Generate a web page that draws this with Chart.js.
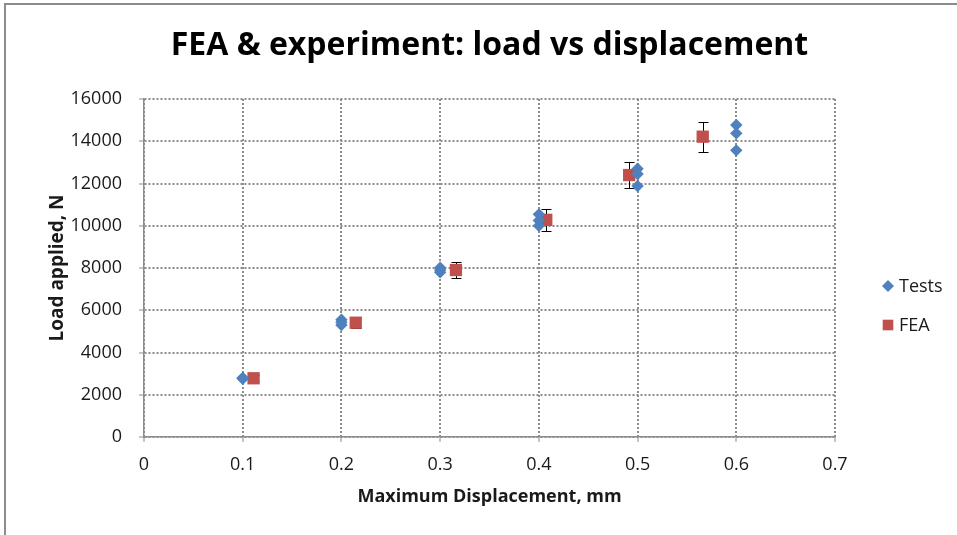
<!DOCTYPE html>
<html>
<head>
<meta charset="utf-8">
<script src="https://cdn.jsdelivr.net/npm/chart.js@4.4.1/dist/chart.umd.min.js"></script>
<style>
  html, body { margin: 0; padding: 0; background: #fff; }
  #wrap { position: relative; width: 957px; height: 535px; overflow: hidden; }
  #frame { position: absolute; left: 4px; top: 3px; right: -10px; bottom: -10px;
           border-left: 2px solid #8c8c8c; border-top: 2px solid #8c8c8c; pointer-events: none; }
  canvas { display: block; }
</style>
</head>
<body>
<div id="wrap">
  <canvas id="chart" width="957" height="535"></canvas>
  <div id="frame"></div>
</div>
<script>
// Measured specimens: maximum displacement (mm) and applied load (N)
const testDisp = [0.1, 0.1, 0.1, 0.2, 0.2, 0.2, 0.3, 0.3, 0.3, 0.4, 0.4, 0.4, 0.5, 0.5, 0.5, 0.6, 0.6, 0.6];
const testLoad = [2800, 2780, 2760, 5550, 5430, 5300, 8010, 7900, 7800, 10540, 10250, 10000, 12700, 12450, 11880, 14770, 14375, 13570];

// Finite element predictions with their error band (N)
const feaDisp = [0.111, 0.2145, 0.316, 0.4075, 0.4915, 0.566];
const feaLoad = [2780, 5410, 7905, 10280, 12400, 14216];
const feaErr  = [140, 270, 400, 510, 620, 710];

// Axis tick labels
const dispTickLabels = ['0', '0.1', '0.2', '0.3', '0.4', '0.5', '0.6', '0.7'];
const loadTickLabels = ['0', '2000', '4000', '6000', '8000', '10000', '12000', '14000', '16000'];

const seriesNames = ['Tests', 'FEA'];
const blue = '#4F81BD';
const red = '#C0504D';
const textColor = '#1a1a1a';
const gridColor = '#8c8c8c';
const FONT = '"Open Sans", Lato, "DejaVu Sans", sans-serif';

// Vertical whiskers with caps around each FEA point
const errorBars = {
  id: 'errorBars',
  beforeDatasetsDraw(chart) {
    const { ctx, scales: { x, y } } = chart;
    ctx.save();
    ctx.strokeStyle = '#000';
    ctx.lineWidth = 1;
    feaDisp.forEach((d, i) => {
      const px = Math.round(x.getPixelForValue(d)) + 0.5;
      const top = Math.round(y.getPixelForValue(feaLoad[i] + feaErr[i])) + 0.5;
      const bot = Math.round(y.getPixelForValue(feaLoad[i] - feaErr[i])) + 0.5;
      ctx.beginPath();
      ctx.moveTo(px, top); ctx.lineTo(px, bot);
      ctx.moveTo(px - 5, top); ctx.lineTo(px + 5, top);
      ctx.moveTo(px - 5, bot); ctx.lineTo(px + 5, bot);
      ctx.stroke();
    });
    ctx.restore();
  }
};

// Legend stacked to the right of the plot
const sideLegend = {
  id: 'sideLegend',
  afterDraw(chart) {
    const { ctx, chartArea } = chart;
    const x0 = chartArea.right + 53;
    const rows = [286, 325];
    ctx.save();
    chart.data.datasets.forEach((ds, i) => {
      const y = rows[i];
      ctx.fillStyle = ds.backgroundColor;
      ctx.strokeStyle = ds.borderColor;
      ctx.lineWidth = 0;
      Chart.helpers.drawPoint(ctx, { pointStyle: ds.pointStyle, radius: ds.legendRadius, borderWidth: 0 }, x0, y);
      ctx.fillStyle = textColor;
      ctx.font = '18px ' + FONT;
      ctx.textBaseline = 'middle';
      ctx.textAlign = 'left';
      ctx.fillText(ds.label, x0 + 11, y + 1);
    });
    ctx.restore();
  }
};

const toPoints = (xs, ys) => xs.map((v, i) => ({ x: v, y: ys[i] }));

new Chart(document.getElementById('chart'), {
  type: 'scatter',
  data: {
    datasets: [
      {
        label: seriesNames[0],
        data: toPoints(testDisp, testLoad),
        pointStyle: 'rectRot',
        pointRadius: 6.2,
        pointHoverRadius: 6.2,
        legendRadius: 6,
        backgroundColor: blue,
        borderColor: blue,
        borderWidth: 0
      },
      {
        label: seriesNames[1],
        data: toPoints(feaDisp, feaLoad),
        pointStyle: 'rect',
        pointRadius: 8.7,
        pointHoverRadius: 8.7,
        legendRadius: 7.5,
        backgroundColor: red,
        borderColor: red,
        borderWidth: 0
      }
    ]
  },
  options: {
    responsive: false,
    animation: false,
    devicePixelRatio: 1,
    layout: { padding: { left: 0, right: 122, top: 0, bottom: 0 } },
    plugins: {
      legend: { display: false },
      tooltip: { enabled: false },
      title: {
        display: true,
        fullSize: false,
        text: 'FEA & experiment: load vs displacement',
        color: '#000',
        font: { family: FONT, size: 32, weight: 'bold', lineHeight: 1.2 },
        padding: { top: 27, bottom: 33.6 }
      }
    },
    scales: {
      x: {
        type: 'linear',
        min: 0,
        max: 0.7,
        afterBuildTicks: s => { s.ticks = dispTickLabels.map(t => ({ value: parseFloat(t) })); },
        afterFit: s => { s.height = 98; },
        ticks: {
          callback: (v, i) => dispTickLabels[i],
          color: textColor,
          font: { family: FONT, size: 18 },
          padding: 12,
          maxRotation: 0
        },
        grid: { color: gridColor, lineWidth: 2, tickLength: 5, tickColor: gridColor, tickWidth: 1, tickBorderDash: [] },
        border: { display: true, color: gridColor, width: 1.5, dash: [2, 2] },
        title: {
          display: true,
          text: 'Maximum Displacement, mm',
          color: textColor,
          font: { family: FONT, size: 18, weight: 'bold', lineHeight: 1.2 },
          padding: { top: 0, bottom: 27 }
        }
      },
      y: {
        type: 'linear',
        min: 0,
        max: 16000,
        afterBuildTicks: s => { s.ticks = loadTickLabels.map(t => ({ value: parseFloat(t) })); },
        afterFit: s => { s.width = 144; },
        ticks: {
          callback: (v, i) => loadTickLabels[i],
          color: textColor,
          font: { family: FONT, size: 18 },
          padding: 17
        },
        grid: { color: gridColor, lineWidth: 2, tickLength: 5, tickColor: gridColor, tickWidth: 1, tickBorderDash: [] },
        border: { display: true, color: gridColor, width: 1.5, dash: [2, 2] },
        title: {
          display: true,
          text: 'Load applied, N',
          color: textColor,
          font: { family: FONT, size: 19, weight: 'bold', lineHeight: 1.2 },
          padding: { top: 46, bottom: 0 }
        }
      }
    }
  },
  plugins: [errorBars, sideLegend]
});
</script>
</body>
</html>
